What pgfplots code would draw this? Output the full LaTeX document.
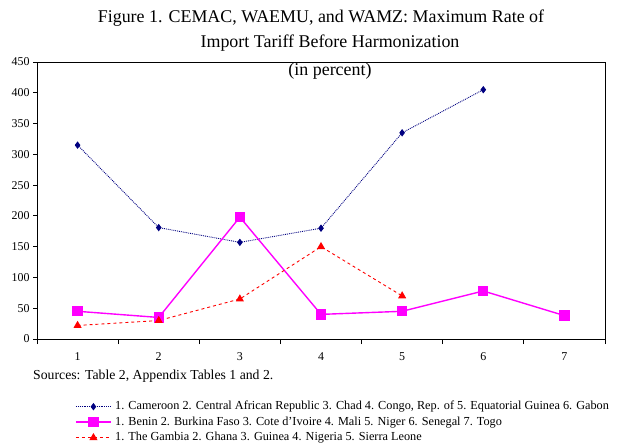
\documentclass[border=0pt]{standalone}
\usepackage{pgfplots}
\pgfplotsset{compat=1.18}
\usepackage{fontspec}
\setmainfont{Liberation Serif}

\definecolor{cemac}{RGB}{0,0,128}
\definecolor{waemu}{RGB}{255,0,255}
\definecolor{wamz}{RGB}{255,0,0}

\begin{document}
\begin{tikzpicture}
    \path[use as bounding box] (-37bp,-105bp) rectangle (584bp,339bp);
    \begin{axis}[
            at={(0,0)}, anchor=origin,
            scale only axis,
            width=568bp, height=277bp,
            xmin=0.5, xmax=7.5,
            ymin=0, ymax=450,
            xtick={1,...,7},
            minor xtick={0.5,1.5,...,7.5},
            ytick={0,50,...,450},
            xtick pos=bottom, ytick pos=left,
            tick align=outside,
            major x tick style={draw=none},
            minor tick length=5bp,
            major tick length=4bp,
            tick style={black, line width=0.9pt},
            axis line style={line width=0.9pt},
            xticklabel style={yshift=-6bp},
            ticklabel style={font=\fontsize{12}{14}\selectfont},
            /pgf/number format/assume math mode=true,
            legend style={
                at={(axis description cs:0.067,-0.222)}, anchor=north west,
                draw=none, fill=none,
                font=\fontsize{12.3}{14}\selectfont,
                row sep=3.5bp,
                inner sep=0pt,
                nodes={inner xsep=3.5bp, inner ysep=0pt, text height=9bp, text depth=3bp},
                cells={anchor=west},
            },
            legend image code/.code={
                \draw[mark repeat=2,mark phase=2]
                plot coordinates {(0bp,0bp) (17.5bp,0bp) (35bp,0bp)};
            },
        ]
        \addplot[cemac, densely dotted, line width=0.9pt,
            mark=diamond*, mark size=3bp, mark options={solid}]
        coordinates {
                (1,315) (2,181) (3,157) (4,180) (5,335) (6,405)
            };
        \addlegendentry{1. Cameroon 2. Central African Republic 3. Chad 4. Congo, Rep. of 5. Equatorial Guinea 6. Gabon}
        \addplot[waemu, solid, line width=1.4pt,
            mark=square*, mark size=4.5bp]
        coordinates {
                (1,45) (2,35) (3,198) (4,40) (5,45) (6,78) (7,38)
            };
        \addlegendentry{1. Benin 2. Burkina Faso 3. Cote d'Ivoire 4. Mali 5. Niger 6. Senegal 7. Togo}
        \addplot[wamz, dashed, line width=0.9pt,
            mark=triangle*, mark size=3.8bp, mark options={solid}]
        coordinates {
                (1,22) (2,30) (3,65) (4,150) (5,70)
            };
        \addlegendentry{1. The Gambia 2. Ghana 3. Guinea 4. Nigeria 5. Sierra Leone}
    \end{axis}
    \node[font=\fontsize{18}{22}\selectfont, anchor=center, inner sep=0pt]
        at (284bp,321bp) {Figure 1. CEMAC, WAEMU, and WAMZ: Maximum Rate of};
    \node[font=\fontsize{18}{22}\selectfont, anchor=center, inner sep=0pt]
        at (293bp,296bp) {Import Tariff Before Harmonization};
    \node[font=\fontsize{18}{22}\selectfont, anchor=center, inner sep=0pt]
        at (293bp,268bp) {(in percent)};
    \node[font=\fontsize{13.8}{16}\selectfont, anchor=west, inner sep=0pt] at (-4bp,-37bp)
        {Sources: Table 2, Appendix Tables 1 and 2.};
\end{tikzpicture}
\end{document}
